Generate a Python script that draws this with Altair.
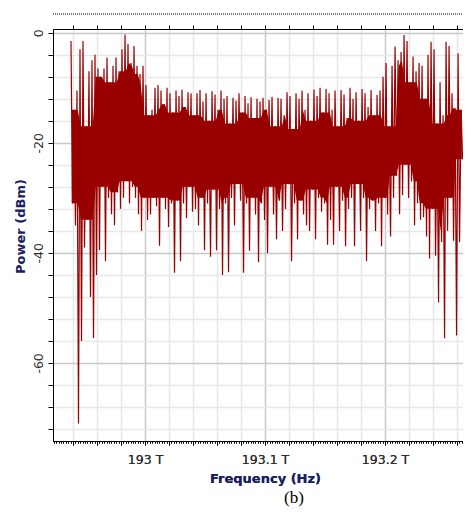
import altair as alt
import numpy as np
import pandas as pd

# Spectrum: each comb line goes from a peak to a trough (dBm)
peak_dbm = [
    -1.5, -14, -10.5, -3, -1.5, -17, -7, -5, -4, -6.5, -8, -6.5, -4.5, -9, -6, -4.5,
    -7, -3, -0.3, -2, -5.5, -2.4, -6, -7.5, -6, -9.5,
    -15, -14, -10, -9.5, -10.5, -13, -10, -11, -14.5, -10.5,
    -11.5, -10.3, -13.5, -10.8, -11, -15, -11, -10.4, -12.5, -11,
    -16, -10.6, -11.2, -14, -10.5, -12, -11.5, -16.5, -11.8, -12.3,
    -11, -14.5, -11.5, -12.8, -11.7, -15.5, -12, -12.5, -11.8, -14,
    -12.2, -11.6, -17, -11.8, -12, -15, -10.8, -11.5, -17.5, -11,
    -12, -10.5, -14, -11, -16, -10.3, -11.5, -10, -14.5, -10.2,
    -11, -14, -10.5, -17, -10.4, -11.2, -15.5, -10, -12, -10.8,
    -16, -10.2, -11, -13.5, -10.4, -15, -11.3, -10.5, -8, -5.5,
    -17, -6, -2.5, -5, -3.5, -0.4, -1.5, -9, -4.3, -7, -5.5, -6, -12, -4, -1.6,
    -3, -16.5, -9, -15, -1.6, -2.4, -11, -13.6, -3.7, -14,
]
trough_dbm = [
    -31, -35, -71, -56, -39, -34, -48, -55.5, -44, -39.5, -28, -41.5, -30, -33, -35, -29,
    -32, -30, -27, -31, -28, -30, -33, -36, -30, -34,
    -33, -30, -31.5, -38.7, -30, -32, -35.3, -31, -43.6, -30.5,
    -41.5, -31, -33.7, -28, -32.5, -32, -35, -30, -39.5, -31,
    -40.7, -28.5, -39.5, -32, -44, -31, -43.5, -30, -35, -27.5,
    -30.5, -43.6, -31, -39.6, -30, -33, -41.7, -31, -34, -40,
    -28, -33, -37.5, -30.5, -36, -32, -27.5, -41.5, -31, -37.5,
    -30.5, -33, -35, -36, -28.5, -37.5, -30, -32.5, -31, -38.5,
    -34, -38.5, -28, -36, -30.5, -38.8, -32, -30, -38.8, -27.5,
    -36, -30, -41.5, -32, -30.5, -36, -31, -38.8, -30, -33,
    -37, -30, -26, -33, -29.5, -24, -30, -27, -35, -31, -34, -33.5, -37, -41, -32,
    -40.5, -49, -38, -55.5, -36, -30, -37.8, -55, -38, -23,
]
FREQ_FIRST_THZ = 192.9383
FREQ_LAST_THZ = 193.2646

power = []
for p, t in zip(peak_dbm, trough_dbm):
    power += [p, t]
freq = np.linspace(FREQ_FIRST_THZ, FREQ_LAST_THZ, len(power))
df = pd.DataFrame({"freq": freq, "power": power})

# solid core where neighbouring comb lines overlap
core = pd.DataFrame({
    "freq": (freq[0::2] + freq[1::2]) / 2,
    "top": pd.Series(peak_dbm).rolling(5, center=True, min_periods=1).min(),
    "bottom": pd.Series(trough_dbm).rolling(5, center=True, min_periods=1).max(),
})

PLOT_W, PLOT_H = 410, 412
x_domain = [192.9233, 192.9233 + PLOT_W / 1200]
y_domain = [-74.2, 0.7]
x_ticks = [round(192.924 + 0.002 * k, 3) for k in range(0, 171)]
x_major = [round(192.94 + 0.02 * k, 2) for k in range(17)]
y_ticks = list(range(0, -76, -4))

major_x = "abs(datum.value*50 - round(datum.value*50)) < 0.001"
tenth_x = "abs(datum.value*10 - round(datum.value*10)) < 0.001"
major_y = "datum.value % 20 == 0"

RED = "#990000"
TITLE_COLOR = "#1b2160"
LABEL_COLOR = "#303030"
FONT = "DejaVu Sans"

x_scale = alt.Scale(domain=x_domain, nice=False, zero=False)
y_scale = alt.Scale(domain=y_domain, nice=False, zero=False)

y_axis = alt.Axis(
    values=y_ticks,
    labelExpr=f"{major_y} ? '' + datum.value : ''",
    labelAngle=270, labelAlign="center", labelBaseline="bottom",
    labelOverlap=False, labelFlush=False, labelBound=False,
    tickSize=5, tickColor="black", domainColor="black",
    gridColor={"condition": {"test": major_y, "value": "#c8c8c8"}, "value": "#e8e8e8"},
    gridWidth=1.5,
    labelFont=FONT, labelFontSize=12.5, labelColor=LABEL_COLOR, labelPadding=3,
    title="Power (dBm)", titleFont=FONT, titleFontSize=13,
    titleFontWeight="bold", titleColor=TITLE_COLOR, titlePadding=5,
    titleY=197, titleAlign="center",
)

x_bottom = alt.Axis(
    orient="bottom", values=x_ticks,
    labelExpr=f"{tenth_x} ? (round(datum.value*10)/10) + ' T' : ''",
    labelOverlap=False, labelFlush=False, labelBound=False,
    tickSize={"condition": {"test": major_x, "value": 4}, "value": 2},
    tickColor="black", domainColor="black",
    gridColor={"condition": [{"test": tenth_x, "value": "#c8c8c8"},
                             {"test": major_x, "value": "#e8e8e8"}],
               "value": "rgba(0,0,0,0)"},
    gridWidth=1.5,
    labelFont=FONT, labelFontSize=12.5, labelColor=LABEL_COLOR, labelPadding=8,
    title="Frequency (Hz)", titleFont=FONT, titleFontSize=13,
    titleFontWeight="bold", titleColor=TITLE_COLOR, titlePadding=7,
    titleX=212, titleAlign="center",
)

band = alt.Chart(core).mark_area(color=RED, clip=True).encode(
    x=alt.X("freq:Q", scale=x_scale, axis=x_bottom),
    y=alt.Y("top:Q", scale=y_scale, axis=y_axis),
    y2="bottom:Q",
)

line = alt.Chart(df).mark_line(color=RED, strokeWidth=1.2, clip=True).encode(
    x=alt.X("freq:Q", scale=x_scale, axis=x_bottom),
    y=alt.Y("power:Q", scale=y_scale, axis=y_axis),
)

top_axis = alt.Chart(df).mark_line(strokeOpacity=0).encode(
    x=alt.X("freq:Q", scale=x_scale, axis=alt.Axis(
        orient="top", values=x_major, labels=False, grid=False, tickSize=4,
        tickColor="black", domainColor="black", title=None)),
    y=alt.Y("power:Q", scale=y_scale, axis=y_axis),
)

dotted = alt.Chart(pd.DataFrame({"k": [0]})).mark_rule(
    color="black", strokeDash=[1, 1], strokeWidth=1
).encode(x=alt.value(0), x2=alt.value(PLOT_W), y=alt.value(-15))

chart = alt.layer(band, line, top_axis, dotted).properties(
    width=PLOT_W, height=PLOT_H,
    autosize=alt.AutoSizeParams(type="none"),
    padding={"left": 45, "top": 21, "right": 0, "bottom": 69},
    title=alt.TitleParams("(b)", orient="bottom", font="Liberation Serif",
                          fontSize=17, fontWeight="normal", color="black",
                          offset=4, dx=36),
).configure_view(stroke=None).configure(background="white")

chart.save("out.html", embed_options={"renderer": "svg", "actions": False})
